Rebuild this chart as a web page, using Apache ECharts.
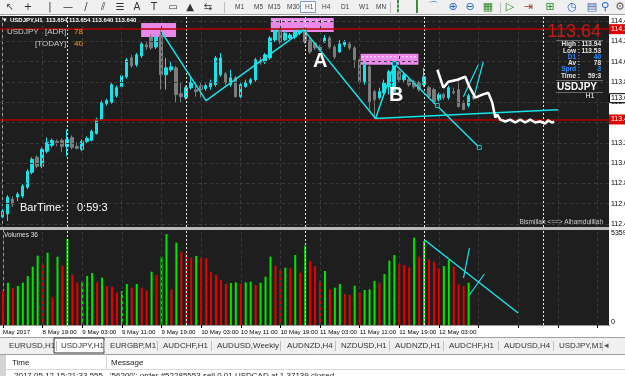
<!DOCTYPE html>
<html>
<head>
<meta charset="utf-8">
<script src="https://cdn.jsdelivr.net/npm/echarts@6/dist/echarts.min.js"></script>
<style>
html, body { margin: 0; padding: 0; background: #f0f0f0; }
#chart { width: 625px; height: 376px; }
</style>
</head>
<body>
<div id="chart"></div>
<script>
// USDJPY H1 bars, 8 May 11:00 -> 12 May 10:00
const opens = [112.469,112.498,112.645,112.665,112.675,112.763,112.910,113.057,112.969,113.116,
  113.175,113.214,113.224,113.165,113.253,113.165,113.135,113.214,113.224,113.292,
  113.429,113.586,113.596,113.665,113.753,113.851,114.037,113.969,114.057,114.165,
  114.243,114.145,114.263,113.871,113.920,113.939,113.684,113.645,113.743,113.724,
  113.763,113.733,113.753,113.773,113.871,113.880,113.773,113.841,113.655,113.753,
  113.792,113.822,114.018,113.998,114.037,114.214,114.312,114.214,114.233,114.243,
  114.282,114.331,114.214,114.184,114.145,114.194,114.233,114.145,114.096,114.165,
  114.175,114.135,114.018,113.802,113.949,113.704,113.645,113.694,113.753,113.704,
  113.900,113.822,113.822,113.802,113.792,113.773,113.743,113.724,113.625,113.675,
  113.645,113.704,113.724,113.596,113.567,113.654]
const closes = [112.527,112.665,112.596,112.694,112.773,112.920,113.037,112.969,113.135,113.204,
  113.224,113.204,113.165,113.233,113.155,113.145,113.214,113.243,113.312,113.429,
  113.596,113.616,113.773,113.743,113.861,114.018,113.959,114.067,114.175,114.145,
  114.135,114.243,113.871,113.939,113.949,113.675,113.655,113.743,113.792,113.704,
  113.724,113.763,113.792,114.037,114.037,113.792,113.841,113.655,113.773,113.792,
  113.822,114.018,113.988,114.067,114.233,114.312,114.194,114.282,114.263,114.292,
  114.331,114.194,114.096,114.135,114.116,114.233,114.145,114.047,114.175,114.194,
  114.135,114.018,113.802,113.969,113.606,113.625,113.704,113.792,113.900,113.978,
  113.822,113.871,113.773,113.753,113.724,113.851,113.655,113.606,113.675,113.645,
  113.743,113.694,113.557,113.527,113.665,113.640]
const lows = [112.429,112.429,112.567,112.625,112.655,112.743,112.890,112.949,112.949,113.096,
  113.155,113.165,113.106,113.067,113.135,113.135,113.116,113.194,113.214,113.282,
  113.420,113.567,113.586,113.645,113.733,113.831,113.939,113.949,114.037,114.116,
  114.116,114.125,113.724,113.724,113.900,113.596,113.596,113.625,113.724,113.655,
  113.645,113.714,113.724,113.753,113.851,113.763,113.753,113.645,113.635,113.743,
  113.773,113.802,113.969,113.978,114.018,114.194,114.175,114.194,114.214,114.224,
  114.263,114.175,114.076,114.116,114.096,114.184,114.125,114.027,114.086,114.145,
  114.116,113.939,113.782,113.773,113.527,113.439,113.625,113.675,113.675,113.684,
  113.802,113.802,113.753,113.733,113.704,113.753,113.635,113.586,113.606,113.625,
  113.625,113.675,113.547,113.527,113.547,113.640]
const highs = [112.557,112.684,112.675,112.714,112.792,112.939,113.057,113.076,113.155,113.253,
  113.243,113.233,113.243,113.331,113.273,113.204,113.233,113.263,113.331,113.449,
  113.616,113.635,113.792,113.763,113.880,114.037,114.067,114.086,114.194,114.194,
  114.273,114.302,114.312,114.037,113.998,113.959,113.792,113.763,113.851,113.802,
  113.792,113.782,113.822,114.057,114.086,113.900,113.920,113.861,113.792,113.822,
  113.841,114.037,114.047,114.086,114.253,114.331,114.331,114.302,114.282,114.312,
  114.341,114.341,114.233,114.204,114.165,114.263,114.253,114.165,114.214,114.214,
  114.194,114.155,114.037,113.988,113.969,113.724,113.743,113.822,113.920,113.978,
  113.920,113.890,113.841,113.822,113.812,113.939,113.763,113.743,113.694,113.694,
  113.763,113.743,113.822,113.616,113.684,113.654]
const volumes = [1936,2388,2068,2200,2388,2764,3290,3910,3422,4080,
  1560,3854,3346,4850,2858,2388,2444,2764,2933,2406,
  2670,2200,2162,1824,1918,2312,2106,2312,2106,1936,
  3008,2820,3854,5132,2012,4644,4136,4042,3798,3892,
  3798,3760,3008,2820,2538,2331,2369,2406,2331,2406,
  2444,2256,2388,2726,3854,3346,3102,3234,3196,3948,
  2952,4474,3610,3328,2500,3046,2012,2106,2312,1748,
  1692,2218,1824,1974,2012,2482,2388,2876,3628,3948,
  3440,3384,3252,4926,3854,4738,3704,3572,3196,3328,
  3666,3290,2294,2200,2388,36]
const volMax = 5359

// time scale: one label every 8 bars
const tickLabels = ['May 2017','8 May 19:00','9 May 03:00','9 May 11:00','9 May 19:00','10 May 03:00',
  '10 May 11:00','10 May 19:00','11 May 03:00','11 May 11:00','11 May 19:00','12 May 03:00']
const daySeparators = [13, 37, 61, 85, 109]
const priceTicks = [112.4,112.6,112.8,113.0,113.2,113.4,113.6,113.8,114.0,114.2,114.4]
const redLevels = [114.320, 113.430]
const bid = 113.640

// drawn objects, [bar index, price]
const zigzag = [[32.19,114.283],[41.05,113.616],[60.76,114.313],[75.25,113.439],[79.07,113.979]]
const baseLine = [[75.25,113.439],[112.07,113.527]]
const bLine = [[79.07,113.979],[96.18,113.154]]
const bMarkers = [[79.07,113.979],[87.73,113.567],[96.18,113.154]]
const fan1 = [[92.96,113.655],[95.98,113.969]]
const fan2 = [[94.97,113.626],[96.98,113.999]]
const freehand = [[87.73,113.920],[88.93,113.743],[89.94,113.802],[91.75,113.822],[93.36,113.851],
  [93.96,113.773],[95.37,113.645],[96.78,113.675],[97.99,113.694],[98.79,113.596],[99.40,113.449],
  [99.80,113.478],[100.40,113.429],[101.41,113.410],[102.41,113.429],[103.42,113.400],[104.43,113.429],
  [105.43,113.400],[106.44,113.429],[107.44,113.400],[108.45,113.410],[109.46,113.390],[110.06,113.420],
  [110.87,113.400],[111.27,113.410]]
const boxes = [[[27.97,114.381],[35.01,114.244]],[[54.12,114.430],[66.80,114.293]],[[72.23,114.077],[83.90,113.969]]]
const boxDashes = [[[54.4,114.401],[66.6,114.401]],[[72.5,114.048],[83.7,114.048]]]
// drawn objects in the volume window, [bar index, volume]
const volLine = [[85.11,4794],[104.0,677]]
const volFan1 = [[92.96,2651],[94.16,4343]]
const volFan2 = [[94.16,1692],[97.18,2876]]

const NCAT = 123, CAT_W = 4.97, GRID_L = -1.5
const GRID_W = NCAT * CAT_W
const categories = []
for (let i = 0; i < NCAT; i++) categories.push(i % 8 === 0 && tickLabels[i / 8] ? tickLabels[i / 8] : '')
const vertGrid = []
for (let i = 0; i < NCAT; i += 8) vertGrid.push(i)

const BG = '#1e1e1e', CYAN = '#19e3e8', GRAY = '#7c7c7c'
const FONT = 'Liberation Sans, Arial, sans-serif'
const NARROW = '8px Liberation Sans Narrow, Arial Narrow, sans-serif'

const chart = echarts.init(document.getElementById('chart'))

const dashedLines = (ticksY, ticksX, color, type) => ({
  silent: true, symbol: ['none', 'none'], label: { show: false }, animation: false,
  lineStyle: { color: color, type: type, width: 1 },
  data: ticksY.map(v => ({ yAxis: v })).concat(ticksX.map(v => ({ xAxis: v })))
})

const lineSeries = (name, pts, color, width, xi, yi) => ({
  name: name, type: 'line', xAxisIndex: xi, yAxisIndex: yi, data: pts,
  showSymbol: false, clip: false, silent: true, z: 6, animation: false,
  lineStyle: { color: color, width: width }
})

const volData = volumes.map((v, i) => ({
  value: v,
  itemStyle: { color: i > 0 && v > volumes[i - 1] ? '#00e600' : '#e80000' }
}))

const txt = (x, y, s, fill, font, align, z) => ({
  type: 'text', x: x, y: y, z: z || 100, silent: true,
  style: { text: s, fill: fill, font: font, textAlign: align || 'left', textVerticalAlign: 'middle' }
})

// toolbar glyphs
const toolGlyphs = [[10,'↖'],[28,'+'],[50,'|'],[68,'—'],[86,'/'],[103,'⫽'],[120,'☰'],[137,'A'],
  [154,'T'],[173,'▭'],[190,'▲'],[208,'⇆']]
const tfLabels = [[235,'M1'],[254,'M5'],[268,'M15'],[287,'M30'],[305,'H1'],[322,'H4'],[341,'D1'],[359,'W1'],[376,'MN']]
const toolGlyphs2 = [[398,'┇','#2a7a2a'],[417,'┃','#2a7a2a'],[433,'⌒','#2a6a9a'],[453,'⊕','#2266cc'],
  [470,'⊖','#2266cc'],[488,'▦','#2a8a2a'],[510,'▷','#2a7a2a'],[528,'⇥','#aa3333'],[550,'⊞','#2a8a2a'],
  [572,'◷','#2266cc'],[592,'▤','#4466aa'],[605,'⚲','#2266cc'],[620,'⚙','#666']]
const tabs = [[9,'EURUSD,H1'],[61,'USDJPY,H1'],[110,'EURGBP,M1'],[163,'AUDCHF,H1'],[217,'AUDUSD,Weekly'],
  [287,'AUDNZD,H4'],[341,'NZDUSD,H1'],[395,'AUDNZD,H1'],[449,'AUDCHF,H1'],[504,'AUDUSD,H4'],[559,'USDJPY,M1']]
const tabSeps = [56, 104, 157, 211, 280, 335, 389, 443, 498, 553, 602]

const graphics = [
  // backgrounds
  { type: 'rect', z: -10, shape: { x: 0, y: 0, width: 625, height: 376 }, style: { fill: '#f0f0f0' } },
  { type: 'rect', z: -9, shape: { x: 0, y: 15, width: 625, height: 322 }, style: { fill: '#ffffff' } },
  { type: 'rect', z: -8, shape: { x: 0, y: 16, width: 609, height: 310 }, style: { fill: BG } },
  { type: 'rect', z: 1, shape: { x: 0, y: 227, width: 609, height: 3 }, style: { fill: '#b8b8b8' } },
  { type: 'line', z: 1, shape: { x1: 0, y1: 14.5, x2: 625, y2: 14.5 }, style: { stroke: '#a0a0a0' } },
  // tab bar and terminal
  { type: 'line', z: 1, shape: { x1: 0, y1: 337.5, x2: 625, y2: 337.5 }, style: { stroke: '#a0a0a0' } },
  { type: 'rect', z: 1, shape: { x: 54, y: 338, width: 50, height: 15 }, style: { fill: '#fff', stroke: '#333', lineWidth: 1 } },
  { type: 'rect', z: 1, shape: { x: 0, y: 355, width: 625, height: 21 }, style: { fill: '#fff' } },
  { type: 'rect', z: 2, shape: { x: 0, y: 355, width: 6, height: 21 }, style: { fill: '#d4d4d4' } },
  { type: 'line', z: 2, shape: { x1: 6, y1: 369.5, x2: 625, y2: 369.5 }, style: { stroke: '#d8d8d8' } },
  { type: 'line', z: 2, shape: { x1: 106.5, y1: 356, x2: 106.5, y2: 369 }, style: { stroke: '#d8d8d8' } },
  { type: 'line', z: 2, shape: { x1: 0, y1: 354.5, x2: 625, y2: 354.5 }, style: { stroke: '#a0a0a0' } },
  txt(12, 362.5, 'Time', '#222', '8px ' + FONT),
  txt(111, 362.5, 'Message', '#222', '8px ' + FONT),
  txt(14, 376, '2017.05.12 15:21:33.555', '#222', '8px ' + FONT),
  txt(110, 376, "'56200': order #52285553 sell 0.01 USDCAD at 1.37139 closed", '#222', '8px ' + FONT),
  txt(604, 346, '◂', '#555', '9px ' + FONT),
  // toolbar
  { type: 'rect', z: 1, shape: { x: 300.5, y: 1.5, width: 15, height: 11 }, style: { fill: '#fff', stroke: '#7a9cc8' } },
  { type: 'line', z: 1, shape: { x1: 224.5, y1: 2, x2: 224.5, y2: 13 }, style: { stroke: '#c0c0c0' } },
  { type: 'line', z: 1, shape: { x1: 390.5, y1: 2, x2: 390.5, y2: 13 }, style: { stroke: '#c0c0c0' } },
  { type: 'line', z: 1, shape: { x1: 500.5, y1: 2, x2: 500.5, y2: 13 }, style: { stroke: '#c0c0c0' } },
  // chart window overlays
  txt(3, 20.5, '▾', '#fff', '7px ' + FONT),
  txt(10, 20.5, 'USDJPY,H1  113.654 113.654 113.640 113.640', '#ffffff', 'bold 6px ' + FONT),
  txt(7, 31.5, 'USDJPY', '#c8c8c8', NARROW),
  txt(45, 31.5, '[ADR]:', '#c8c8c8', NARROW),
  txt(74, 31.5, '78', '#ff9a1a', NARROW),
  txt(35, 44, '[TODAY]:', '#c8c8c8', NARROW),
  txt(74, 44, '40', '#ff9a1a', NARROW),
  txt(20, 208, 'BarTime:', '#ffffff', '11px ' + FONT),
  txt(77, 208, '0:59:3', '#ffffff', '11px ' + FONT),
  txt(313, 61, 'A', '#ffffff', 'bold 20px ' + FONT),
  txt(389, 95, 'B', '#ffffff', 'bold 20px ' + FONT),
  txt(603, 222.5, 'Bismillah <==> Alhamdulillah', '#d0d0d0', '6.5px ' + FONT, 'right'),
  txt(601, 32, '113.64', '#c41a1a', '18px ' + FONT, 'right'),
  { type: 'line', z: 100, shape: { x1: 556, y1: 40.5, x2: 603, y2: 40.5 }, style: { stroke: '#6a6a6a' } },
  txt(580, 44.5, 'High :', '#e6e6e6', 'bold 6.5px ' + FONT, 'right'),
  txt(601, 44.5, '113.94', '#e6e6e6', 'bold 6.5px ' + FONT, 'right'),
  txt(580, 51, 'Low :', '#e6e6e6', 'bold 6.5px ' + FONT, 'right'),
  txt(601, 51, '113.53', '#e6e6e6', 'bold 6.5px ' + FONT, 'right'),
  txt(580, 57.5, 'D1 :', '#2f8cff', 'bold 6.5px ' + FONT, 'right'),
  txt(601, 57.5, '40', '#2f8cff', 'bold 6.5px ' + FONT, 'right'),
  txt(580, 63.5, 'Av :', '#e6e6e6', 'bold 6.5px ' + FONT, 'right'),
  txt(601, 63.5, '78', '#e6e6e6', 'bold 6.5px ' + FONT, 'right'),
  txt(580, 69.5, 'Sprd :', '#2f8cff', 'bold 6.5px ' + FONT, 'right'),
  txt(601, 69.5, '3', '#2f8cff', 'bold 6.5px ' + FONT, 'right'),
  txt(580, 76, 'Time :', '#e6e6e6', 'bold 6.5px ' + FONT, 'right'),
  txt(601, 76, '59:3', '#e6e6e6', 'bold 6.5px ' + FONT, 'right'),
  { type: 'line', z: 100, shape: { x1: 556, y1: 80.5, x2: 603, y2: 80.5 }, style: { stroke: '#6a6a6a' } },
  txt(577, 87, 'USDJPY', '#ffffff', 'bold 10px ' + FONT, 'center'),
  { type: 'line', z: 100, shape: { x1: 556, y1: 92.5, x2: 603, y2: 92.5 }, style: { stroke: '#6a6a6a' } },
  txt(590, 96.5, 'H1', '#ffffff', '7px ' + FONT, 'center'),
  txt(4, 235, 'Volumes 36', '#e0e0e0', '6.5px ' + FONT),
  txt(611, 233, '5359', '#000', '7px ' + FONT),
  txt(611, 322, '0', '#000', '7px ' + FONT)
]
toolGlyphs.forEach(g => graphics.push(txt(g[0], 7.5, g[1], '#333', '10px DejaVu Sans, sans-serif', 'center')))
tfLabels.forEach(g => graphics.push(txt(g[0], 7.5, g[1], '#444', '6.5px ' + FONT)))
toolGlyphs2.forEach(g => graphics.push(txt(g[0], 7.5, g[1], g[2], '11px DejaVu Sans, sans-serif', 'center')))
tabs.forEach(t => graphics.push(txt(t[0], 346, t[1], '#333', '8px ' + FONT)))
tabSeps.forEach(x => graphics.push({ type: 'line', z: 2, shape: { x1: x + 0.5, y1: 341, x2: x + 0.5, y2: 351 }, style: { stroke: '#c0c0c0' } }))

const option = {
  animation: false,
  backgroundColor: 'transparent',
  grid: [
    { left: GRID_L, top: 16, width: GRID_W, height: 211 },
    { left: GRID_L, top: 230, width: GRID_W, height: 95 }
  ],
  xAxis: [
    { type: 'category', gridIndex: 0, data: categories, boundaryGap: true,
      axisLine: { show: false }, axisTick: { show: false }, axisLabel: { show: false }, splitLine: { show: false } },
    { type: 'value', gridIndex: 0, min: -0.5, max: NCAT - 0.5, show: false },
    { type: 'category', gridIndex: 1, data: categories, boundaryGap: true,
      axisLine: { show: true, lineStyle: { color: '#9a9a9a' } },
      axisTick: { show: true, alignWithLabel: true, length: 3, interval: i => i % 8 === 0, lineStyle: { color: '#000' } },
      axisLabel: { show: true, interval: 0, align: 'left', margin: 4, fontSize: 6.2, color: '#000', fontFamily: FONT },
      splitLine: { show: false } },
    { type: 'value', gridIndex: 1, min: -0.5, max: NCAT - 0.5, show: false }
  ],
  yAxis: [
    { type: 'value', gridIndex: 0, position: 'right', min: 112.37, max: 114.45, scale: true,
      axisLine: { show: true, lineStyle: { color: '#9a9a9a' } },
      axisTick: { show: true, length: 2, customValues: priceTicks, lineStyle: { color: '#000' } },
      axisLabel: { show: false }, splitLine: { show: false } },
    { type: 'value', gridIndex: 1, position: 'right', min: 0, max: volMax,
      axisLine: { show: true, lineStyle: { color: '#9a9a9a' } }, axisTick: { show: false },
      axisLabel: { show: false }, splitLine: { show: false } }
  ],
  graphic: { elements: graphics },
  series: [
    { name: 'grid', type: 'line', xAxisIndex: 1, yAxisIndex: 0, data: [], z: 1, silent: true,
      markLine: dashedLines(priceTicks, vertGrid, '#3a3a3a', [3, 3]) },
    { name: 'separators', type: 'line', xAxisIndex: 1, yAxisIndex: 0, data: [], z: 1, silent: true,
      markLine: dashedLines([], daySeparators, '#e8e8e8', [2, 2]) },
    { name: 'boxes', type: 'line', xAxisIndex: 1, yAxisIndex: 0, data: [], z: 2, silent: true, clip: false,
      markArea: { silent: true, itemStyle: { color: '#ea88ea', opacity: 1 },
        data: boxes.map(b => [{ coord: b[0] }, { coord: b[1] }]) } },
    { name: 'USDJPY', type: 'candlestick', xAxisIndex: 0, yAxisIndex: 0, z: 3, barWidth: 3,
      data: opens.map((o, i) => [o, closes[i], lows[i], highs[i]]),
      itemStyle: { color: CYAN, color0: GRAY, borderColor: CYAN, borderColor0: GRAY, borderWidth: 1 } },
    { name: 'levels', type: 'line', xAxisIndex: 1, yAxisIndex: 0, data: [], z: 4, silent: true,
      markLine: { silent: true, symbol: ['none', 'none'], animation: false, label: { show: false },
        lineStyle: { color: '#b40000', width: 1.5, type: 'solid' },
        data: redLevels.map(v => ({ yAxis: v })) } },
    ...boxDashes.map(d => ({ name: 'boxDash', type: 'line', xAxisIndex: 1, yAxisIndex: 0, data: d,
      showSymbol: false, clip: false, silent: true, z: 2,
      lineStyle: { color: '#fff0ff', width: 1, type: [2, 2] } })),
    lineSeries('zigzag', zigzag, CYAN, 1.5, 1, 0),
    lineSeries('base', baseLine, CYAN, 1.5, 1, 0),
    lineSeries('bLine', bLine, CYAN, 1.5, 1, 0),
    lineSeries('fan1', fan1, CYAN, 1.2, 1, 0),
    lineSeries('fan2', fan2, CYAN, 1.2, 1, 0),
    lineSeries('freehand', freehand, '#ffffff', 2.5, 1, 0),
    { name: 'markers', type: 'scatter', xAxisIndex: 1, yAxisIndex: 0, data: bMarkers, z: 7, silent: true,
      symbol: 'rect', symbolSize: 4, itemStyle: { color: BG, borderColor: CYAN, borderWidth: 1 } },
    { name: 'volGrid', type: 'line', xAxisIndex: 3, yAxisIndex: 1, data: [], z: 1, silent: true,
      markLine: dashedLines([], vertGrid, '#3a3a3a', [3, 3]) },
    { name: 'volSeparators', type: 'line', xAxisIndex: 3, yAxisIndex: 1, data: [], z: 1, silent: true,
      markLine: dashedLines([], daySeparators, '#e8e8e8', [2, 2]) },
    { name: 'Volumes', type: 'bar', xAxisIndex: 2, yAxisIndex: 1, data: volData, barWidth: 2, z: 3 },
    lineSeries('volLine', volLine, CYAN, 1.5, 3, 1),
    lineSeries('volFan1', volFan1, CYAN, 1.2, 3, 1),
    lineSeries('volFan2', volFan2, CYAN, 1.2, 3, 1)
  ]
}
chart.setOption(option)

// price scale labels and tags, placed through the y axis (they run off the right edge, as in MT4)
const tagX = 609
const tags = []
priceTicks.forEach(v => {
  tags.push(txt(611, chart.convertToPixel({ yAxisIndex: 0 }, v), v.toFixed(3), '#000', '7px ' + FONT, 'left', 105))
})
redLevels.forEach(v => {
  const y = chart.convertToPixel({ yAxisIndex: 0 }, v)
  tags.push({ type: 'rect', z: 110, shape: { x: tagX, y: y - 5, width: 20, height: 10 }, style: { fill: '#e00000' } })
  tags.push(txt(tagX + 2, y, v.toFixed(3), '#ffffff', '7px ' + FONT, 'left', 120))
})
const by = chart.convertToPixel({ yAxisIndex: 0 }, bid)
tags.push({ type: 'rect', z: 110, shape: { x: tagX + 0.5, y: by - 4.5, width: 20, height: 9 }, style: { fill: '#fff', stroke: '#000', lineWidth: 1 } })
tags.push(txt(tagX + 2, by, bid.toFixed(3), '#000', '7px ' + FONT, 'left', 120))
chart.setOption({ graphic: { elements: graphics.concat(tags) } })
</script>
</body>
</html>
